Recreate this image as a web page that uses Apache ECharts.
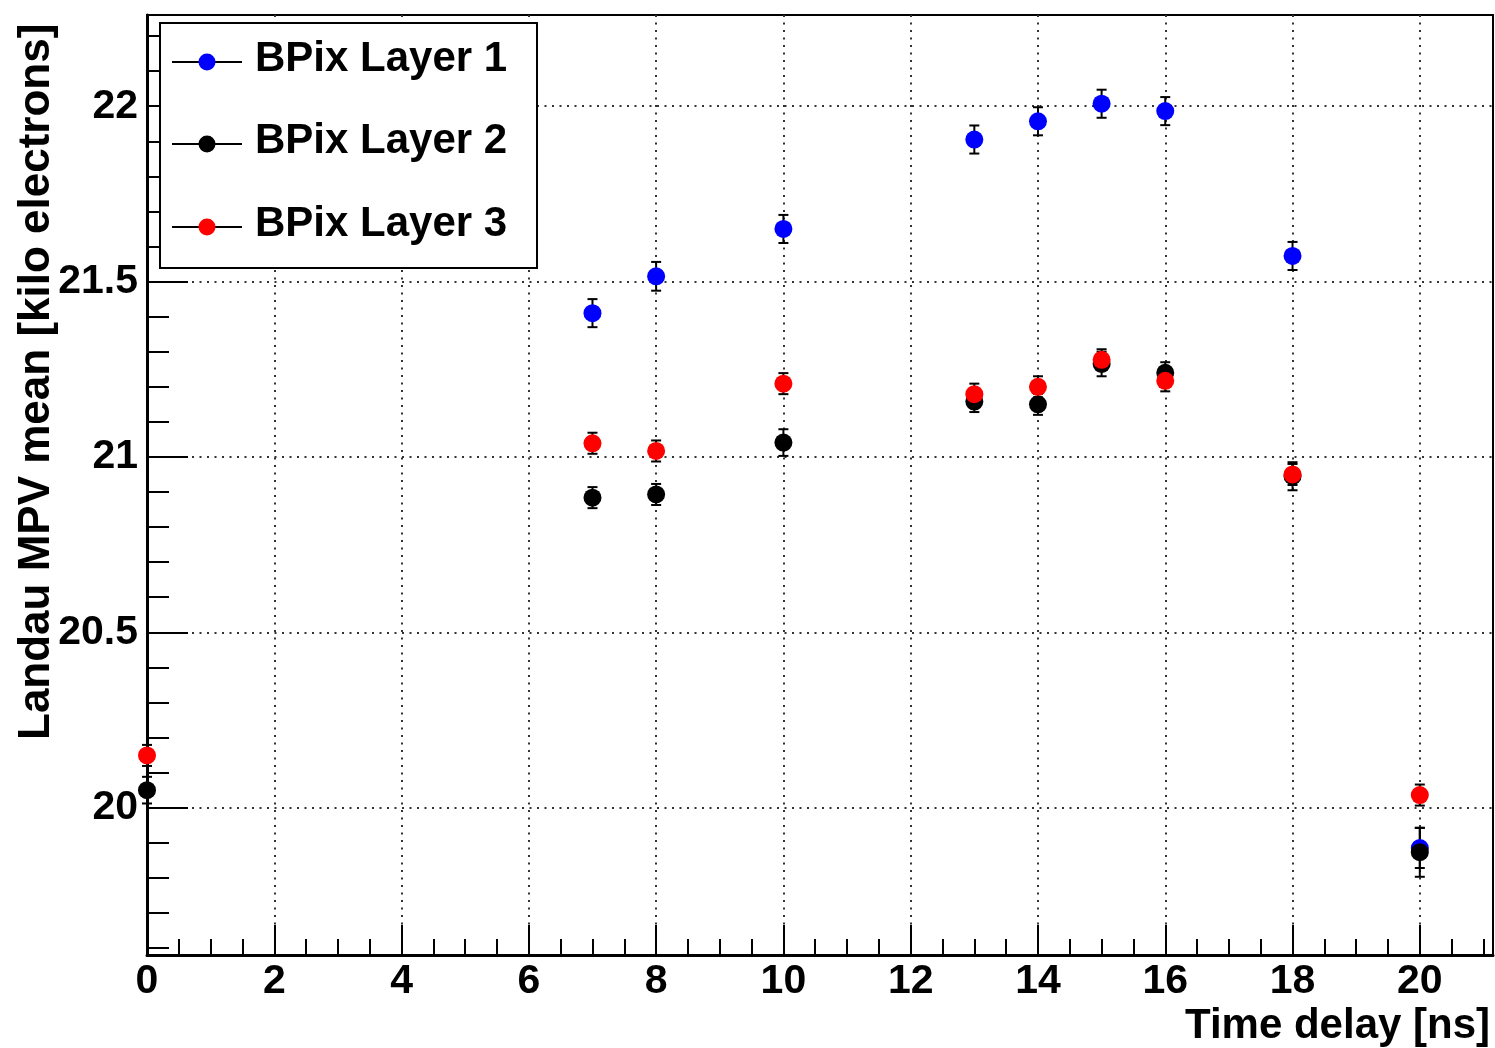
<!DOCTYPE html>
<html>
<head>
<meta charset="utf-8">
<title>Landau MPV vs time delay</title>
<script src="https://cdn.jsdelivr.net/npm/echarts@6.0.0/dist/echarts.min.js"></script>
<style>
html, body { margin:0; padding:0; background:#fff; }
#chart { width:1495px; height:1048px; }
</style>
</head>
<body>
<div id="chart"></div>
<script>
/** time delay points [ns] */
var timeDelay = [0, 7, 8, 10, 13, 14, 15, 16, 18, 20];
var seriesNames = ['BPix Layer 1', 'BPix Layer 2', 'BPix Layer 3'];
var seriesColors = ['#0000ff', '#000000', '#ff0000'];

/** Landau MPV mean, kilo electrons (null = no point) */
var layer1Mean = [null, 21.41, 21.515, 21.65, 21.905, 21.957, 22.007, 21.986, 21.573, 19.885];
var layer1Err  = [null, 0.04, 0.041, 0.04, 0.04, 0.04, 0.04, 0.04, 0.04, 0.057];
var layer2Mean = [20.05, 20.884, 20.893, 21.041, 21.158, 21.15, 21.265, 21.24, 20.945, 19.873];
var layer2Err  = [0.038, 0.03, 0.03, 0.038, 0.03, 0.03, 0.035, 0.03, 0.04, 0.07];
var layer3Mean = [20.149, 21.039, 21.017, 21.209, 21.179, 21.2, 21.277, 21.217, 20.95, 20.036];
var layer3Err  = [0.03, 0.03, 0.03, 0.03, 0.03, 0.03, 0.03, 0.03, 0.03, 0.03];

/** axis ticks */
var xMajorTicks = [0, 2, 4, 6, 8, 10, 12, 14, 16, 18, 20];
var xMinorTicks = [0.5, 1, 1.5, 2.5, 3, 3.5, 4.5, 5, 5.5, 6.5, 7, 7.5, 8.5, 9, 9.5, 10.5, 11, 11.5,
                   12.5, 13, 13.5, 14.5, 15, 15.5, 16.5, 17, 17.5, 18.5, 19, 19.5, 20.5, 21];
var yMajorTicks = [20, 20.5, 21, 21.5, 22];
var yMinorTicks = [19.6, 19.7, 19.8, 19.9, 20.1, 20.2, 20.3, 20.4, 20.6, 20.7, 20.8, 20.9,
                   21.1, 21.2, 21.3, 21.4, 21.6, 21.7, 21.8, 21.9, 22.1, 22.2];

var FONT = "'Liberation Sans', Arial, Helvetica, sans-serif";

function pointData(means){
	var out = [];
	for(var i=0; i<timeDelay.length; i++){
		if(means[i] != null) out.push([timeDelay[i], means[i]]);
	}
	return out;
}
function errData(means, errs){
	var out = [];
	for(var i=0; i<timeDelay.length; i++){
		if(means[i] != null) out.push([timeDelay[i], means[i]-errs[i], means[i]+errs[i]]);
	}
	return out;
}
/** vertical error bar with small caps */
function renderErr(params, api){
	var x = api.value(0);
	var lo = api.coord([x, api.value(1)]);
	var hi = api.coord([x, api.value(2)]);
	var w = 5;
	var st = { stroke:'#000', lineWidth:2 };
	return {
		type:'group',
		children:[
			{ type:'line', shape:{ x1:lo[0], y1:lo[1], x2:hi[0], y2:hi[1] }, style:st },
			{ type:'line', shape:{ x1:hi[0]-w, y1:hi[1], x2:hi[0]+w, y2:hi[1] }, style:st },
			{ type:'line', shape:{ x1:lo[0]-w, y1:lo[1], x2:lo[0]+w, y2:lo[1] }, style:st }
		]
	};
}

var means = [layer1Mean, layer2Mean, layer3Mean];
var errs = [layer1Err, layer2Err, layer3Err];
var series = [];
for(var s=0; s<3; s++){
	series.push({
		type:'custom', name:seriesNames[s] + ' err', renderItem:renderErr,
		data:errData(means[s], errs[s]), encode:{ x:0, y:[1,2] }, silent:true
	});
	series.push({
		type:'scatter', name:seriesNames[s], data:pointData(means[s]),
		symbol:'circle', symbolSize:18, itemStyle:{ color:seriesColors[s], opacity:1 }
	});
}

/** legend box drawn by hand: black line + coloured marker like the original */
var legendRows = [62, 144, 227];
var legendGraphic = [{
	type:'rect', shape:{ x:160, y:23, width:377, height:245 },
	style:{ fill:'#fff', stroke:'#000', lineWidth:2 }, z:100
}];
for(var r=0; r<3; r++){
	legendGraphic.push({ type:'line', shape:{ x1:172, y1:legendRows[r], x2:242, y2:legendRows[r] },
		style:{ stroke:'#000', lineWidth:2 }, z:101 });
	legendGraphic.push({ type:'circle', shape:{ cx:207, cy:legendRows[r], r:8.5 },
		style:{ fill:seriesColors[r] }, z:102 });
	legendGraphic.push({ type:'text', x:255, y:legendRows[r] - 3, z:102,
		style:{ text:seriesNames[r], fill:'#000', font:'bold 42px ' + FONT, textVerticalAlign:'middle' } });
}
/** axis titles */
legendGraphic.push({ type:'text', x:1490, y:1026, z:102,
	style:{ text:'Time delay [ns]', fill:'#000', font:'bold 42px ' + FONT, textAlign:'right', textVerticalAlign:'middle' } });
legendGraphic.push({ type:'text', x:37, y:740, rotation:Math.PI/2, z:102,
	style:{ text:'Landau MPV mean [kilo electrons]', fill:'#000', font:'bold 44px ' + FONT, textAlign:'left', textVerticalAlign:'middle' } });

var gridLine = { show:true, lineStyle:{ color:'#333', width:2, type:[2, 5.5] } };

var option = {
	animation:false,
	backgroundColor:'#fff',
	grid:{ left:147, top:15, right:2, bottom:93, show:true, borderColor:'#000', borderWidth:2, backgroundColor:'transparent' },
	xAxis:[{
		type:'value', min:0, max:21.15, position:'bottom',
		axisLine:{ show:true, onZero:false, lineStyle:{ color:'#000', width:3 } },
		axisTick:{ show:true, inside:true, length:30, customValues:xMajorTicks, lineStyle:{ color:'#000', width:2 } },
		axisLabel:{ show:true, customValues:xMajorTicks, margin:6, color:'#000', fontSize:41, fontWeight:'bold', fontFamily:FONT },
		splitLine:gridLine
	},{
		type:'value', min:0, max:21.15, position:'bottom',
		axisLine:{ show:false },
		axisTick:{ show:true, inside:true, length:16, customValues:xMinorTicks, lineStyle:{ color:'#000', width:2 } },
		axisLabel:{ show:false },
		splitLine:{ show:false }
	}],
	yAxis:[{
		type:'value', min:19.58, max:22.26, position:'left',
		axisLine:{ show:true, onZero:false, lineStyle:{ color:'#000', width:3 } },
		axisTick:{ show:true, inside:true, length:41, customValues:yMajorTicks, lineStyle:{ color:'#000', width:2 } },
		axisLabel:{ show:true, customValues:yMajorTicks, margin:9, color:'#000', fontSize:41, fontWeight:'bold', fontFamily:FONT },
		splitLine:gridLine
	},{
		type:'value', min:19.58, max:22.26, position:'left',
		axisLine:{ show:false },
		axisTick:{ show:true, inside:true, length:22, customValues:yMinorTicks, lineStyle:{ color:'#000', width:2 } },
		axisLabel:{ show:false },
		splitLine:{ show:false }
	}],
	graphic:legendGraphic,
	series:series
};

var chart = echarts.init(document.getElementById('chart'));
chart.setOption(option);
</script>
</body>
</html>
